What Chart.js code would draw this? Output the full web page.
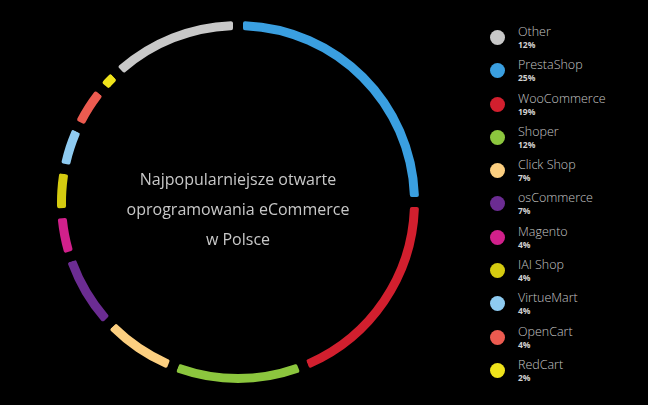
<!DOCTYPE html>
<html>
<head>
<meta charset="utf-8">
<script src="https://cdn.jsdelivr.net/npm/chart.js@4"></script>
<style>
  html, body { margin:0; padding:0; background:#000; width:648px; height:405px; overflow:hidden; }
  #wrap { position:absolute; left:47px; top:11px; width:382px; height:382px; }
  #center { position:absolute; left:88px; top:164px; width:300px; text-align:center; color:#c8c8c8;
            font-family:"Open Sans", sans-serif; font-size:16px; line-height:30px; }
  #legend { position:absolute; left:490px; top:29px; font-family:"Open Sans", sans-serif; }
  .item { position:relative; height:33.3px; }
  .dot { position:absolute; left:0; top:1px; width:15px; height:15px; border-radius:50%; }
  .lab { position:absolute; left:28px; top:-6px; font-size:12.5px; color:#c4c4c4; font-weight:300; white-space:nowrap; }
  .pct { position:absolute; left:28px; top:10px; font-size:8.5px; color:#d0d0d0; font-weight:700; }
</style>
</head>
<body>
<div id="wrap"><canvas id="c"></canvas></div>
<div id="center"></div>
<div id="legend"></div>
<script>
// Ring order (clockwise from top)
const categories = ["PrestaShop","WooCommerce","Shoper","Click Shop","osCommerce","Magento","IAI Shop","VirtueMart","OpenCart","RedCart","Other"];
const shares = [25, 19, 12, 7, 7, 4, 4, 4, 4, 2, 12];
const colors = ["#3a9fe0","#d21f2e","#8cc63e","#fccf80","#6b2c92","#d1208b","#d5cb10","#8ecbf1","#ec5b50","#efe31b","#c8c8c8"];
// Legend order
const legendOrder = ["Other","PrestaShop","WooCommerce","Shoper","Click Shop","osCommerce","Magento","IAI Shop","VirtueMart","OpenCart","RedCart"];
const titleLines = ["Najpopularniejsze otwarte","oprogramowania eCommerce","w Polsce"];

document.getElementById('center').innerHTML = titleLines.map(t => '<div>' + t + '</div>').join('');

const leg = document.getElementById('legend');
legendOrder.forEach(name => {
  const i = categories.indexOf(name);
  const d = document.createElement('div');
  d.className = 'item';
  d.innerHTML = '<div class="dot" style="background:' + colors[i] + '"></div>' +
                '<div class="lab">' + name + '</div>' +
                '<div class="pct">' + shares[i] + '%</div>';
  leg.appendChild(d);
});

new Chart(document.getElementById('c'), {
  type: 'doughnut',
  data: {
    labels: categories,
    datasets: [{
      data: shares,
      backgroundColor: colors,
      borderColor: '#000',
      borderWidth: 10,
      borderAlign: 'center',
      borderJoinStyle: 'round',
      borderRadius: 7,
      spacing: 0
    }]
  },
  options: {
    responsive: true,
    maintainAspectRatio: false,
    animation: false,
    cutout: 167,
    layout: { padding: 0 },
    plugins: { legend: { display: false }, tooltip: { enabled: false } }
  }
});
</script>
</body>
</html>
